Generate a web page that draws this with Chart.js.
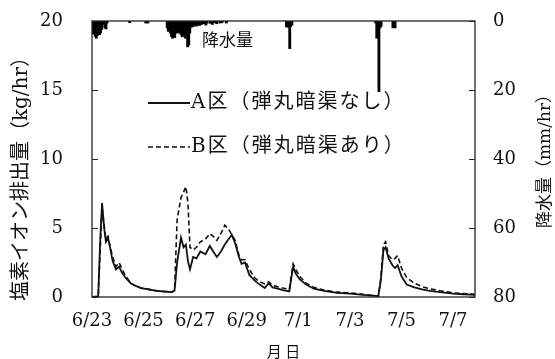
<!DOCTYPE html>
<html>
<head>
<meta charset="utf-8">
<script src="https://cdn.jsdelivr.net/npm/chart.js@4/dist/chart.umd.min.js"></script>
<style>
  html, body { margin: 0; padding: 0; background: #fff; }
  canvas { display: block; }
</style>
</head>
<body>
<canvas id="c" width="555" height="359"></canvas>
<script>
// Elapsed time in days from 6/23 00:00
const dayTicks = [0, 2, 4, 6, 8, 10, 12, 14];
const dayTickLabels = ['6/23', '6/25', '6/27', '6/29', '7/1', '7/3', '7/5', '7/7'];

// Sampling times (days) shared by both plots
const times = [
  0, 0.24, 0.32, 0.39, 0.47, 0.54, 0.62, 0.70, 0.80, 0.93,
  1.05, 1.15, 1.28, 1.5, 1.7, 1.9, 2.2, 2.5, 2.8, 3.1,
  3.2, 3.3, 3.45, 3.55, 3.64, 3.72, 3.8, 3.92, 4.05, 4.2,
  4.4, 4.57, 4.7, 4.84, 5.0, 5.15, 5.3, 5.42, 5.55, 5.7,
  5.8, 5.93, 6.1, 6.3, 6.5, 6.7, 6.85, 7.0, 7.2, 7.4,
  7.65, 7.73, 7.8, 7.9, 8.05, 8.3, 8.6, 9.0, 9.5, 10.0,
  10.5, 10.9, 11.1, 11.2, 11.3, 11.38, 11.5, 11.65, 11.75, 11.85,
  12.0, 12.2, 12.5, 12.8, 13.1, 13.5, 14.0, 14.4, 14.85
];

// 塩素イオン排出量 (kg/hr), A区 (弾丸暗渠なし)
const plotA = [
  0, 0.05, 4.2, 6.8, 5.0, 4.0, 4.3, 3.6, 2.6, 2.0,
  2.2, 1.8, 1.45, 1.0, 0.8, 0.65, 0.55, 0.45, 0.4, 0.35,
  0.45, 2.5, 4.3, 3.6, 3.8, 2.6, 2.0, 2.9, 2.8, 3.3,
  3.1, 3.7, 3.3, 2.9, 3.3, 3.8, 4.2, 4.5, 3.9, 2.9,
  2.4, 2.5, 1.6, 1.2, 0.9, 0.65, 1.0, 0.7, 0.6, 0.5,
  0.4, 1.4, 2.2, 1.7, 1.3, 0.9, 0.6, 0.45, 0.3, 0.25,
  0.15, 0.1, 0.05, 1.2, 3.4, 3.6, 2.8, 2.3, 2.1, 2.3,
  1.5, 0.9, 0.7, 0.55, 0.45, 0.35, 0.25, 0.2, 0.15
];

// 塩素イオン排出量 (kg/hr), B区 (弾丸暗渠あり)
const plotB = [
  0, 0.05, 3.5, 6.5, 5.2, 4.2, 4.4, 3.7, 2.9, 2.2,
  2.5, 2.1, 1.6, 1.0, 0.8, 0.65, 0.55, 0.45, 0.4, 0.35,
  0.5, 5.6, 7.2, 7.6, 8.0, 6.8, 3.6, 3.4, 3.6, 4.0,
  4.2, 4.6, 4.4, 4.1, 4.6, 5.2, 4.9, 4.5, 4.1, 3.0,
  2.7, 2.7, 2.0, 1.4, 1.1, 0.95, 1.1, 0.85, 0.75, 0.65,
  0.55, 1.6, 2.4, 2.0, 1.5, 1.0, 0.7, 0.5, 0.35, 0.3,
  0.2, 0.1, 0.05, 1.4, 3.8, 4.0, 3.0, 2.7, 2.8, 3.0,
  2.1, 1.4, 1.0, 0.75, 0.6, 0.45, 0.3, 0.25, 0.2
];

// Hourly precipitation: hour since 6/23 00:00 and amount (mm/hr)
const rainHours = [
  0, 1, 2, 3, 4, 5, 6, 7, 8, 9, 10, 12, 13, 14,
  35, 50, 52,
  70, 71, 72, 73, 74, 75, 76, 77, 78, 79, 80, 81, 82, 83, 84, 85, 86, 87, 88, 89, 90,
  91, 92, 93, 94, 95, 96, 97, 98, 99, 100, 102, 104, 106, 107, 110, 112, 114, 116, 119, 121, 125,
  181, 182, 183, 184, 185, 186,
  264, 265, 266, 267, 268, 269,
  280, 281, 282
];
const rainMm = [
  3.5, 3.8, 3.0, 4.5, 5.0, 4.2, 3.5, 4.0, 3.5, 2.5, 1.0, 2.0, 2.3, 0.6,
  0.5, 0.6, 0.6,
  2.0, 3.0, 2.5, 3.5, 4.5, 5.0, 4.2, 4.8, 3.5, 3.0, 3.5, 2.8, 3.5, 4.0, 4.6, 4.2, 3.5, 5.0, 4.0, 7.5, 7.0,
  3.5, 1.8, 1.5, 1.7, 1.2, 1.0, 1.5, 1.2, 0.8, 1.3, 1.0, 0.8, 1.2, 0.6, 0.7, 1.0, 0.5, 0.8, 0.6, 0.5, 0.6,
  1.7, 1.8, 1.5, 8.0, 1.6, 1.2,
  0.6, 5.0, 4.5, 20.5, 2.0, 1.5,
  2.0, 1.8, 2.0
];

const legendA = 'A区（弾丸暗渠なし）';
const legendB = 'B区（弾丸暗渠あり）';
const rainLabel = '降水量';
const titleLeft = '塩素イオン排出量（kg/hr）';
const titleRight = '降水量（mm/hr）';
const titleX = '月 日';

const NUM_FONT = "'DejaVu Serif', 'Noto Sans CJK JP', serif";
const JP_FONT = "'Noto Sans CJK JP', sans-serif";
const INK = '#111';

const toPoints = (xs, ys) => xs.map((x, i) => ({ x: x, y: ys[i] }));

// Vertical axes keep a fixed width and do not push the plot area down
const fixVertical = w => s => { s.width = w; s.paddingTop = 0; s.paddingBottom = 0; };

// Frame, inner tick marks, axis titles and the in-plot legend
const decorations = {
  id: 'decorations',
  afterDatasetsDraw(chart) {
    const { ctx, chartArea: a, scales } = chart;
    ctx.save();
    ctx.strokeStyle = '#222';
    ctx.lineWidth = 1.3;
    ctx.strokeRect(a.left, a.top, a.right - a.left, a.bottom - a.top);
    ctx.lineWidth = 1;
    ctx.beginPath();
    scales.y.ticks.forEach(t => {
      const py = Math.round(scales.y.getPixelForValue(t.value)) + 0.5;
      ctx.moveTo(a.left, py); ctx.lineTo(a.left + 6, py);
    });
    scales.y2.ticks.forEach(t => {
      const py = Math.round(scales.y2.getPixelForValue(t.value)) + 0.5;
      ctx.moveTo(a.right - 6, py); ctx.lineTo(a.right, py);
    });
    ctx.stroke();
    ctx.restore();
  },
  afterDraw(chart) {
    const { ctx, chartArea: a } = chart;
    ctx.save();
    ctx.fillStyle = INK;
    ctx.textBaseline = 'middle';

    // left axis title, reading bottom to top
    ctx.save();
    ctx.translate(22, 174);
    ctx.rotate(-Math.PI / 2);
    ctx.textAlign = 'center';
    ctx.font = '20px ' + NUM_FONT;
    ctx.fillText(titleLeft, 0, 0);
    ctx.restore();

    // right axis title, also reading bottom to top
    ctx.save();
    ctx.translate(546, 157);
    ctx.rotate(-Math.PI / 2);
    ctx.textAlign = 'center';
    ctx.font = '17px ' + NUM_FONT;
    ctx.fillText(titleRight, 0, 0);
    ctx.restore();

    // x axis title
    ctx.textAlign = 'center';
    ctx.font = '15px ' + JP_FONT;
    ctx.fillText(titleX, (a.left + a.right) / 2, 351);

    // precipitation label
    ctx.textAlign = 'left';
    ctx.font = '17px ' + JP_FONT;
    ctx.fillText(rainLabel, 202, 40);

    // legend
    const items = [
      { text: legendA, y: 103, dash: [], width: 1.8 },
      { text: legendB, y: 147, dash: [5, 3], width: 1.6 }
    ];
    items.forEach(it => {
      ctx.beginPath();
      ctx.setLineDash(it.dash);
      ctx.lineWidth = it.width;
      ctx.strokeStyle = INK;
      ctx.moveTo(148, it.y);
      ctx.lineTo(190, it.y);
      ctx.stroke();
      ctx.setLineDash([]);
      ctx.font = '20px ' + NUM_FONT;
      if ('letterSpacing' in ctx) ctx.letterSpacing = '2px';
      ctx.fillText(it.text, 191, it.y);
      if ('letterSpacing' in ctx) ctx.letterSpacing = '0px';
    });
    ctx.restore();
  }
};

new Chart(document.getElementById('c'), {
  data: {
    datasets: [
      {
        type: 'line',
        label: legendA,
        data: toPoints(times, plotA),
        xAxisID: 'x', yAxisID: 'y',
        borderColor: INK, borderWidth: 1.8,
        pointRadius: 0, tension: 0, fill: false, order: 0
      },
      {
        type: 'line',
        label: legendB,
        data: toPoints(times, plotB),
        xAxisID: 'x', yAxisID: 'y',
        borderColor: INK, borderWidth: 1.6, borderDash: [5, 3],
        pointRadius: 0, tension: 0, fill: false, order: 1
      },
      {
        type: 'bar',
        label: rainLabel,
        data: toPoints(rainHours.map(h => h / 24), rainMm),
        xAxisID: 'x', yAxisID: 'y2',
        backgroundColor: '#000', borderWidth: 0,
        barThickness: 2.2, order: 2
      }
    ]
  },
  options: {
    responsive: false,
    animation: false,
    layout: { padding: { top: 21, left: 0, right: 0, bottom: 0 } },
    plugins: { legend: { display: false }, tooltip: { enabled: false } },
    scales: {
      x: {
        type: 'linear', position: 'bottom',
        min: 0, max: 14.85, offset: false,
        afterBuildTicks: s => { s.ticks = dayTicks.map(v => ({ value: v })); },
        afterFit: s => { s.height = 62; s.paddingLeft = 0; s.paddingRight = 0; },
        grid: { display: false, drawTicks: false, offset: false },
        border: { display: false },
        ticks: {
          padding: 14, maxRotation: 0, autoSkip: false,
          color: INK, font: { family: NUM_FONT, size: 18 },
          callback: (v) => dayTickLabels[dayTicks.indexOf(v)]
        }
      },
      y: {
        type: 'linear', position: 'left',
        min: 0, max: 20,
        afterFit: fixVertical(92),
        grid: { display: false, drawTicks: false },
        border: { display: false },
        ticks: { stepSize: 5, padding: 29, color: INK, font: { family: NUM_FONT, size: 18 } }
      },
      y2: {
        type: 'linear', position: 'right',
        min: 0, max: 80, reverse: true,
        afterFit: fixVertical(80),
        grid: { display: false, drawTicks: false },
        border: { display: false },
        ticks: { stepSize: 20, padding: 18, color: INK, font: { family: NUM_FONT, size: 18 } }
      }
    }
  },
  plugins: [decorations]
});
</script>
</body>
</html>
